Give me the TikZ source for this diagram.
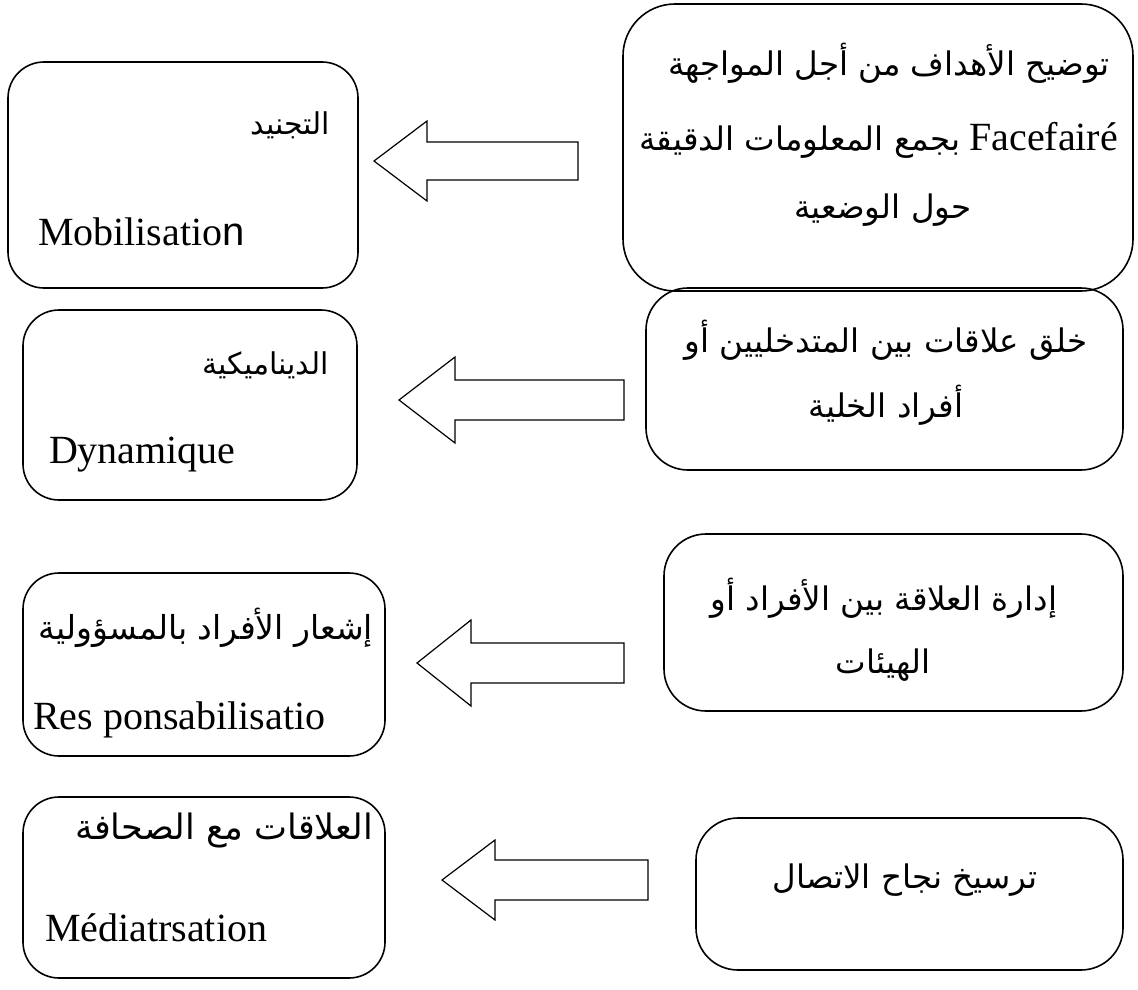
\documentclass[tikz,border=0pt]{standalone}
\usepackage{fontspec}
\setmainfont{Liberation Serif}
\newfontfamily\arabicfont[Script=Arabic]{DejaVu Sans}
\newfontfamily\sansn{Liberation Sans}
\TeXXeTstate=1
\newcommand{\arsize}[1]{\fontsize{#1}{#1}\selectfont\arabicfont}
\begin{document}
\begin{tikzpicture}[x=1pt,y=-1pt,
  every node/.style={inner sep=0pt, outer sep=0pt},
  box/.style={draw, line width=1.6pt, rounded corners=36pt, anchor=north west},
  bigbox/.style={box, rounded corners=52pt},
  rbox/.style={box, rounded corners=42pt},
  blockarrow/.style={draw, line width=1.2pt, line join=miter},
  arR/.style={font=\arsize{32.5}},
  lat/.style={font=\fontsize{40}{44}\selectfont}]
\useasboundingbox (0,0) rectangle (1138,990);

% ---- boxes ----
\node[box, minimum width=350pt, minimum height=226pt] (L1) at (8,62) {};
\node[bigbox, minimum width=510pt, minimum height=287pt] (R1) at (623,4) {};
\node[box, minimum width=334pt, minimum height=190pt] (L2) at (23,310) {};
\node[rbox, minimum width=477pt, minimum height=182pt] (R2) at (646,288) {};
\node[box, minimum width=362pt, minimum height=183pt] (L3) at (23,573) {};
\node[rbox, minimum width=459pt, minimum height=177pt] (R3) at (664,534) {};
\node[box, minimum width=362pt, minimum height=181pt] (L4) at (23,797) {};
\node[rbox, minimum width=427pt, minimum height=152pt] (R4) at (696,818) {};

% ---- texts, left boxes ----
\node[font=\arsize{30}, anchor=east] (L1a) at (330,125) {\beginR التجنيد\endR};
\node[lat, anchor=west] (L1b) at (38,232) {Mobilisatio{\sansn n}};
\node[font=\arsize{30}, anchor=east] (L2a) at (329,365) {\beginR الديناميكية\endR};
\node[lat, anchor=west] (L2b) at (49,455) {Dynamique};
\node[font=\arsize{33}, anchor=east] (L3a) at (373,628) {\beginR إشعار الأفراد بالمسؤولية\endR};
\node[lat, anchor=west] (L3b) at (33,720) {Res ponsabilisatio};
\node[font=\arsize{35}, anchor=east] (L4a) at (373,830) {\beginR العلاقات مع الصحافة\endR};
\node[lat, anchor=west] (L4b) at (45,928) {Médiatrsation};

% ---- texts, right boxes ----
\node[arR] (R1a) at (889,63) {\beginR توضيح الأهداف من أجل المواجهة\endR};
\node[lat, anchor=base east] (R1f) at (1118,150) {Facefairé};
\node[arR, anchor=base east, xshift=-9pt] (R1b) at (R1f.base west) {\beginR بجمع المعلومات الدقيقة\endR};
\node[arR] (R1c) at (883,210) {\beginR حول الوضعية\endR};
\node[arR] (R2a) at (886,340) {\beginR خلق علاقات بين المتدخليين أو\endR};
\node[arR] (R2b) at (886,405) {\beginR أفراد الخلية\endR};
\node[arR] (R3a) at (884,598) {\beginR إدارة العلاقة بين الأفراد أو\endR};
\node[arR] (R3b) at (883,665) {\beginR الهيئات\endR};
\node[arR] (R4a) at (905,880) {\beginR ترسيخ نجاح الاتصال\endR};

% ---- block arrows (right box -> left box) ----
\draw[blockarrow] (578,142) -- (427,142) -- (427,121) -- (374,161) -- (427,201) -- (427,180) -- (578,180) -- cycle;
\draw[blockarrow] (624,380) -- (455,380) -- (455,357) -- (399,400) -- (455,443) -- (455,420) -- (624,420) -- cycle;
\draw[blockarrow] (624,643) -- (471,643) -- (471,620) -- (417,663) -- (471,706) -- (471,683) -- (624,683) -- cycle;
\draw[blockarrow] (648,860) -- (495,860) -- (495,840) -- (442,880) -- (495,920) -- (495,900) -- (648,900) -- cycle;
\end{tikzpicture}
\end{document}
